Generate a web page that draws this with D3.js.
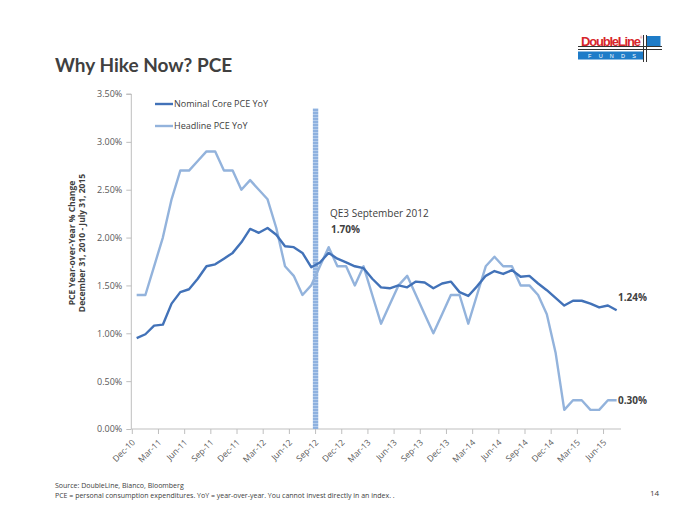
<!DOCTYPE html>
<html>
<head>
<meta charset="utf-8">
<script src="https://cdn.jsdelivr.net/npm/d3@7"></script>
<style>
  html, body { margin: 0; padding: 0; background: #fff; }
  svg { display: block; font-family: Lato, "Open Sans", "Liberation Sans", sans-serif; }
</style>
</head>
<body>
<svg id="chart" width="700" height="525"></svg>
<script>
const months = ["Dec-10","Jan-11","Feb-11","Mar-11","Apr-11","May-11","Jun-11","Jul-11","Aug-11","Sep-11","Oct-11","Nov-11",
  "Dec-11","Jan-12","Feb-12","Mar-12","Apr-12","May-12","Jun-12","Jul-12","Aug-12","Sep-12","Oct-12","Nov-12",
  "Dec-12","Jan-13","Feb-13","Mar-13","Apr-13","May-13","Jun-13","Jul-13","Aug-13","Sep-13","Oct-13","Nov-13",
  "Dec-13","Jan-14","Feb-14","Mar-14","Apr-14","May-14","Jun-14","Jul-14","Aug-14","Sep-14","Oct-14","Nov-14",
  "Dec-14","Jan-15","Feb-15","Mar-15","Apr-15","May-15","Jun-15","Jul-15"];
const coreYoY = [0.95,0.99,1.08,1.09,1.31,1.43,1.46,1.57,1.70,1.72,1.78,1.84,1.95,2.09,2.05,2.10,2.03,1.91,1.90,1.84,1.69,1.74,1.84,1.78,
  1.74,1.70,1.68,1.57,1.48,1.47,1.50,1.48,1.54,1.53,1.47,1.52,1.54,1.43,1.39,1.49,1.60,1.65,1.62,1.66,1.59,1.60,1.52,1.45,
  1.37,1.29,1.34,1.34,1.31,1.27,1.29,1.24];
const headlineYoY = [1.4,1.4,1.7,2.0,2.4,2.7,2.7,2.8,2.9,2.9,2.7,2.7,2.5,2.6,2.5,2.4,2.1,1.7,1.6,1.4,1.5,1.7,1.9,1.7,
  1.7,1.5,1.7,1.4,1.1,1.3,1.5,1.6,1.4,1.2,1.0,1.2,1.4,1.4,1.1,1.4,1.7,1.8,1.7,1.7,1.5,1.5,1.4,1.2,
  0.8,0.2,0.3,0.3,0.2,0.2,0.3,0.3];
const tickLabels = ["Dec-10","Mar-11","Jun-11","Sep-11","Dec-11","Mar-12","Jun-12","Sep-12","Dec-12","Mar-13","Jun-13",
  "Sep-13","Dec-13","Mar-14","Jun-14","Sep-14","Dec-14","Mar-15","Jun-15"];
const yTicks = [0, 0.5, 1.0, 1.5, 2.0, 2.5, 3.0, 3.5];
const seriesNames = ["Nominal Core PCE YoY", "Headline PCE YoY"];
const eventMonth = "Sep-12";
const eventLabel = "QE3 September 2012";
const eventValue = "1.70%";
const barTop = 3.35;

const svg = d3.select("#chart");
const L = 132.3, R = 621, T = 94, B = 429;
const x = d3.scaleBand().domain(months).range([L, R]).paddingInner(0).paddingOuter(0);
const bw = x.bandwidth();
const cx = m => x(m) + bw / 2;
const y = d3.scaleLinear().domain([0, 3.5]).range([B, T]);

const coreColor = "#4272B8", headColor = "#93B3DC", textCol = "#404040", axisCol = "#BFBFBF";
const bodyFont = "'Open Sans', 'Liberation Sans', sans-serif";

// title
svg.append("text").attr("x", 55).attr("y", 72).attr("font-size", 19).attr("font-weight", "bold")
  .attr("fill", textCol).text("Why Hike Now? PCE");

// logo
const logo = svg.append("g");
logo.append("text").attr("x", 581).attr("y", 46).attr("font-family", "'Liberation Sans', Arial, sans-serif")
  .attr("font-size", 13).attr("font-weight", "bold").attr("fill", "#D7262C").attr("textLength", 60).text("DoubleLine");
logo.append("text").attr("x", 640).attr("y", 39).attr("font-size", 3).attr("fill", "#D7262C").text("®");
logo.append("rect").attr("x", 578).attr("y", 51.5).attr("width", 65).attr("height", 8).attr("fill", "#1E7CC8");
logo.append("text").attr("x", 588).attr("y", 58.3).attr("font-family", "'Liberation Sans', Arial, sans-serif")
  .attr("font-size", 5.5).attr("fill", "#fff").attr("textLength", 48).attr("lengthAdjust", "spacing").text("F U N D S");
logo.append("rect").attr("x", 646.5).attr("y", 36).attr("width", 14).attr("height", 10.5).attr("fill", "#1E7CC8");
[643.5, 646.5].forEach(v => logo.append("line").attr("x1", v).attr("x2", v).attr("y1", 35).attr("y2", 62)
  .attr("stroke", "#333").attr("stroke-width", 1));
[46.5, 49.5].forEach(v => logo.append("line").attr("x1", 578).attr("x2", 662).attr("y1", v).attr("y2", v)
  .attr("stroke", "#333").attr("stroke-width", 1));

// y axis
const yAxis = d3.axisLeft(y).tickValues(yTicks).tickSize(5).tickPadding(3).tickFormat(d => d3.format(".2f")(d) + "%");
const gy = svg.append("g").attr("transform", `translate(${L - 1},0)`).call(yAxis);
gy.select(".domain").attr("stroke", axisCol).attr("d", `M-5,${T}H0V${B}`);
gy.selectAll(".tick line").attr("stroke", axisCol);
gy.selectAll(".tick text").attr("fill", "#595959").attr("font-size", 9)
  .attr("font-family", bodyFont).attr("dx", -1);

// x axis
const xAxis = d3.axisBottom(x).tickValues(tickLabels).tickSize(5).tickPadding(2);
const gx = svg.append("g").attr("transform", `translate(0,${B})`).call(xAxis);
gx.select(".domain").attr("stroke", axisCol).attr("d", `M${L - 1},0H${R}`);
gx.selectAll(".tick line").attr("stroke", axisCol).attr("x1", -bw / 2).attr("x2", -bw / 2);
gx.selectAll(".tick text").attr("fill", "#595959").attr("font-size", 8.5)
  .attr("font-family", bodyFont)
  .attr("text-anchor", "end").attr("dy", null).attr("y", 0)
  .attr("transform", "translate(-1,14) rotate(-45)");

// event bar with stripe pattern
const defs = svg.append("defs");
const pat = defs.append("pattern").attr("id", "stripes").attr("patternUnits", "userSpaceOnUse")
  .attr("width", 6).attr("height", 3);
pat.append("rect").attr("width", 6).attr("height", 3).attr("fill", "#8EB1DF");
pat.append("rect").attr("width", 6).attr("height", 1).attr("fill", "#B4CCEB");
svg.append("rect").attr("x", x(eventMonth) - 2.7).attr("width", 5.4)
  .attr("y", y(barTop)).attr("height", y(0) - y(barTop)).attr("fill", "url(#stripes)");

// lines
const line = d3.line().x((d, i) => cx(months[i])).y(d => y(d));
svg.append("path").datum(headlineYoY).attr("d", line).attr("fill", "none")
  .attr("stroke", headColor).attr("stroke-width", 2.4).attr("stroke-linejoin", "round");
svg.append("path").datum(coreYoY).attr("d", line).attr("fill", "none")
  .attr("stroke", coreColor).attr("stroke-width", 2.4).attr("stroke-linejoin", "round");

// legend
const legend = svg.append("g");
[[coreColor, 104], [headColor, 126]].forEach(([c, yy], i) => {
  legend.append("line").attr("x1", 155).attr("x2", 173).attr("y1", yy).attr("y2", yy)
    .attr("stroke", c).attr("stroke-width", 2.4);
  legend.append("text").attr("x", 174).attr("y", yy + 3.2).attr("font-size", 9)
    .attr("font-family", bodyFont).attr("fill", textCol).text(seriesNames[i]);
});

// annotation
svg.append("text").attr("x", 330).attr("y", 217).attr("font-size", 10)
  .attr("font-family", bodyFont).attr("fill", textCol).text(eventLabel);
svg.append("text").attr("x", 331).attr("y", 233).attr("font-size", 10).attr("font-weight", "bold")
  .attr("font-family", bodyFont).attr("fill", textCol).text(eventValue);

// end labels
const lastIdx = months.length - 1;
svg.append("text").attr("x", 618).attr("y", y(coreYoY[lastIdx]) - 9).attr("font-size", 10).attr("font-weight", "bold")
  .attr("font-family", bodyFont).attr("fill", textCol)
  .text(d3.format(".2f")(coreYoY[lastIdx]) + "%");
svg.append("text").attr("x", 618).attr("y", y(headlineYoY[lastIdx]) + 3.5).attr("font-size", 10).attr("font-weight", "bold")
  .attr("font-family", bodyFont).attr("fill", textCol)
  .text(d3.format(".2f")(headlineYoY[lastIdx]) + "%");

// y axis title
const yt = svg.append("text").attr("transform", "translate(77,243) rotate(-90)").attr("text-anchor", "middle")
  .attr("font-size", 8.5).attr("font-weight", "bold").attr("fill", textCol)
  .attr("font-family", bodyFont);
yt.append("tspan").attr("x", 0).attr("y", -2).text("PCE Year-over-Year % Change");
yt.append("tspan").attr("x", 0).attr("y", 8).text("December 31, 2010 - July 31, 2015");

// footer
svg.append("text").attr("x", 55).attr("y", 488).attr("font-size", 7).attr("fill", textCol)
  .attr("font-family", bodyFont).text("Source: DoubleLine, Bianco, Bloomberg");
svg.append("text").attr("x", 55).attr("y", 498).attr("font-size", 7).attr("fill", textCol)
  .attr("font-family", bodyFont)
  .text("PCE = personal consumption expenditures. YoY = year-over-year. You cannot invest directly in an index. .");
svg.append("text").attr("x", 650).attr("y", 496).attr("font-size", 8).attr("fill", textCol)
  .attr("font-family", bodyFont).text("14");
</script>
</body>
</html>
